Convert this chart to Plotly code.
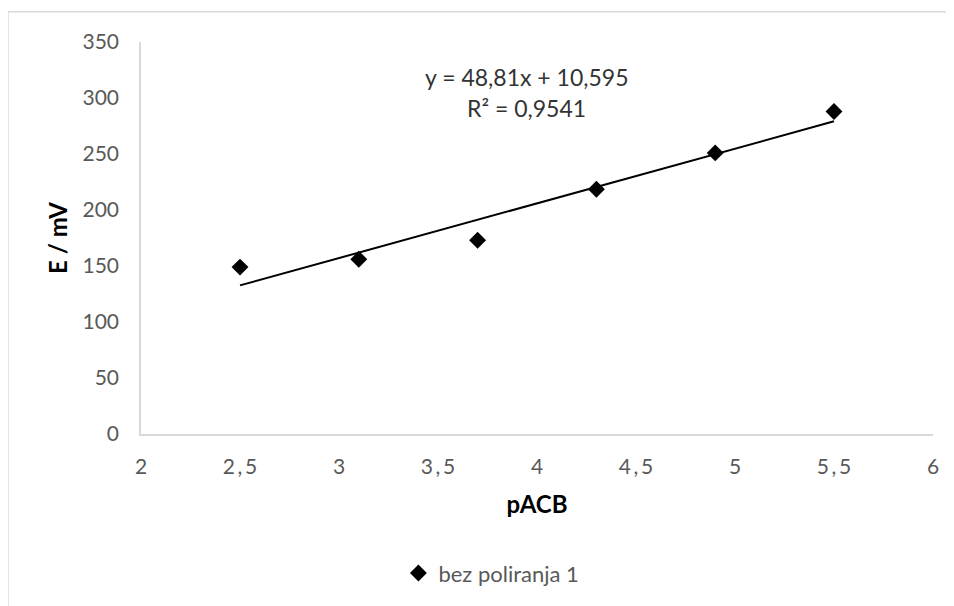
import numpy as np
import plotly.graph_objects as go

# Data
pacb = [2.5, 3.1, 3.7, 4.3, 4.9, 5.5]
e_mv = [149, 156, 173, 218.5, 251, 288]
series_name = "bez poliranja 1"
x_tickvals = [2, 2.5, 3, 3.5, 4, 4.5, 5, 5.5, 6]
x_ticktext = ["2", "2\u2009,\u20095", "3", "3\u2009,\u20095", "4", "4\u2009,\u20095", "5", "5\u2009,\u20095", "6"]
y_tickvals = [0, 50, 100, 150, 200, 250, 300, 350]
equation_line1 = "y = 48,81x + 10,595"
equation_line2 = "R² = 0,9541"

slope, intercept = np.polyfit(pacb, e_mv, 1)
trend_x = [min(pacb), max(pacb)]
trend_y = [slope * v + intercept for v in trend_x]

FONT = "Lato, 'Liberation Sans', sans-serif"

fig = go.Figure()
fig.add_trace(go.Scatter(
    x=pacb, y=e_mv, mode="markers", name=series_name,
    marker=dict(symbol="diamond", size=13, color="#000000"),
))
fig.add_trace(go.Scatter(
    x=trend_x, y=trend_y, mode="lines", showlegend=False,
    line=dict(color="#000000", width=2), hoverinfo="skip",
))

fig.update_layout(
    width=946, height=598,
    margin=dict(l=133, r=21, t=34, b=172),
    paper_bgcolor="white", plot_bgcolor="white",
    font=dict(family=FONT, color="#595959", size=21),
    showlegend=True,
    legend=dict(orientation="h", x=0.325, y=-0.355, xanchor="left", yanchor="middle",
                font=dict(size=22, color="#595959"), bgcolor="rgba(0,0,0,0)"),
    xaxis=dict(range=[2, 6], tickvals=x_tickvals, ticktext=x_ticktext,
               showgrid=False, zeroline=False, showline=True, linecolor="#d9d9d9",
               linewidth=1.5, ticks="", ticklabelstandoff=13,
               tickfont=dict(size=21, color="#595959"),
               title=dict(text="<b>pACB</b>", font=dict(size=24, color="#000000"), standoff=19)),
    yaxis=dict(range=[0, 350], tickvals=y_tickvals,
               showgrid=False, zeroline=False, showline=True, linecolor="#d9d9d9",
               linewidth=1.5, ticks="", ticklabelstandoff=16,
               tickfont=dict(size=21, color="#595959"),
               title=dict(text="<b>E / mV</b>", font=dict(size=24, color="#000000"), standoff=8)),
    shapes=[dict(type="rect", xref="paper", yref="paper",
                 x0=-0.168, x1=1.2, y0=-0.8, y1=1.077,
                 line=dict(color="#d9d9d9", width=1.5), layer="below")],
    annotations=[
        dict(text=equation_line1, xref="paper", yref="paper",
             x=0.487, y=0.911, xanchor="center", yanchor="middle",
             showarrow=False, font=dict(size=23, color="#333333")),
        dict(text=equation_line2, xref="paper", yref="paper",
             x=0.487, y=0.832, xanchor="center", yanchor="middle",
             showarrow=False, font=dict(size=23, color="#333333")),
    ],
)

fig.write_html("out.html")
